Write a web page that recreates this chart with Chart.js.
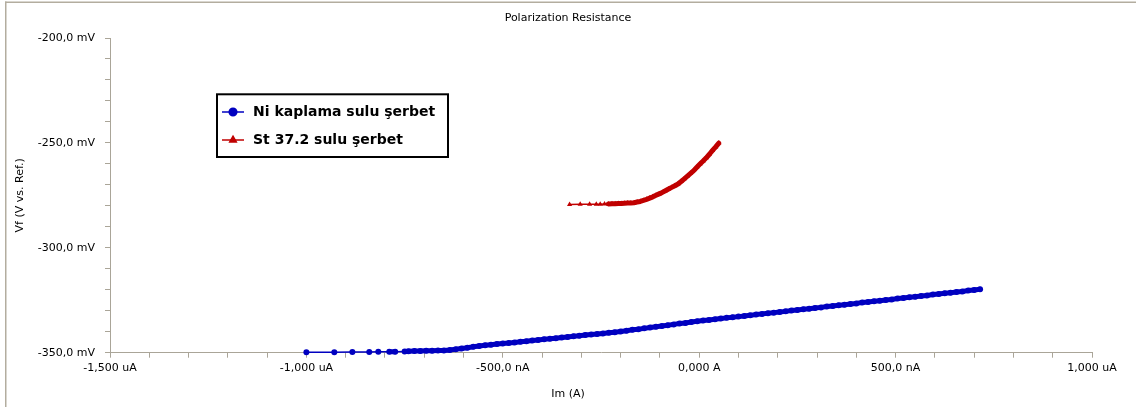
<!DOCTYPE html>
<html>
<head>
<meta charset="utf-8">
<script src="https://cdn.jsdelivr.net/npm/chart.js@4.4.1/dist/chart.umd.min.js"></script>
<style>
  html, body { margin: 0; padding: 0; background: #ffffff; overflow: hidden; }
  canvas { display: block; }
</style>
</head>
<body>
<canvas id="chart" width="1136" height="407"></canvas>
<script>
// Titles and series names
const chartTitle = 'Polarization Resistance';
const xAxisTitle = 'Im (A)';
const yAxisTitle = 'Vf (V vs. Ref.)';
const seriesNames = ['Ni kaplama sulu şerbet', 'St 37.2 sulu şerbet'];

// Ni coating in syrup: current (nA) and potential (mV)
const niCurrent = [
  -1000, -929, -883, -840, -817, -789, -774, -750,
  -740, -725, -710, -695, -680, -665, -650, -635, -620, -605,
  -590, -575, -560, -545, -530, -515, -500, -485, -470, -455,
  -440, -425, -410, -395, -380, -365, -350, -335, -320, -305,
  -290, -275, -260, -245, -230, -215, -200, -185, -170, -155,
  -140, -125, -110, -95, -80, -65, -50, -35, -20, -5,
  10, 25, 40, 55, 70, 85, 100, 115, 130, 145,
  160, 175, 190, 205, 220, 235, 250, 265, 280, 295,
  310, 325, 340, 355, 370, 385, 400, 415, 430, 445,
  460, 475, 490, 505, 520, 535, 550, 565, 580, 595,
  610, 625, 640, 655, 670, 685, 700, 715
];
const niPotential = [
  -349.8, -349.8, -349.7, -349.7, -349.6, -349.6, -349.5, -349.4,
  -349.3, -349.2, -349.2, -349.1, -349.1, -349.0, -348.9, -348.7, -348.4, -348.0,
  -347.6, -347.2, -346.8, -346.5, -346.2, -345.9, -345.6, -345.4, -345.1, -344.8,
  -344.5, -344.2, -343.9, -343.6, -343.4, -343.1, -342.8, -342.5, -342.2, -341.9,
  -341.6, -341.3, -341.1, -340.8, -340.5, -340.2, -339.9, -339.5, -339.1, -338.8,
  -338.4, -338.0, -337.6, -337.3, -336.9, -336.5, -336.1, -335.8, -335.4, -335.0,
  -334.7, -334.4, -334.1, -333.7, -333.4, -333.1, -332.8, -332.5, -332.2, -331.8,
  -331.5, -331.2, -330.9, -330.6, -330.3, -329.9, -329.6, -329.3, -329.0, -328.7,
  -328.4, -328.0, -327.7, -327.4, -327.1, -326.8, -326.5, -326.1, -325.8, -325.5,
  -325.2, -324.9, -324.6, -324.2, -323.9, -323.6, -323.3, -323.0, -322.7, -322.3,
  -322.0, -321.7, -321.4, -321.1, -320.8, -320.4, -320.1, -319.8
];

// St 37.2 steel in syrup: current (nA) and potential (mV)
const stCurrent = [
  -330, -303, -279, -262, -252, -241, -231, -222, -214, -206,
  -198, -190, -182, -174, -166, -158, -150, -142, -134, -126,
  -118, -110, -102, -94, -86, -78, -70, -62, -54, -46,
  -38, -30, -22, -14, -6, 2, 10, 18, 26, 34,
  42, 50
];
const stPotential = [
  -279.4, -279.3, -279.3, -279.2, -279.2, -279.1, -279.1, -279.0, -279.0, -278.9,
  -278.9, -278.8, -278.7, -278.6, -278.5, -278.2, -277.9, -277.4, -276.9, -276.3,
  -275.7, -275.0, -274.3, -273.6, -272.8, -272.0, -271.2, -270.4, -269.6, -268.4,
  -267.1, -265.8, -264.5, -263.2, -261.6, -260.1, -258.6, -257.1, -255.4, -253.6,
  -251.9, -250.1
];

// Axis tick labels (values in nA and mV)
const xTickValues = [-1500, -1000, -500, 0, 500, 1000];
const xTickLabels = ['-1,500 uA', '-1,000 uA', '-500,0 nA', '0,000 A', '500,0 nA', '1,000 uA'];
const yTickValues = [-350, -300, -250, -200];
const yTickLabels = ['-350,0 mV', '-300,0 mV', '-250,0 mV', '-200,0 mV'];

const toPoints = (xs, ys) => xs.map((x, i) => ({ x: x, y: ys[i] }));
const labelFor = (values, labels) => (v) => {
  const i = values.findIndex(t => Math.abs(t - v) < 1e-6);
  return i >= 0 ? labels[i] : '';
};
// Where samples crowd together the markers merge into a solid band
const bandWidth = (limit) => (ctx) =>
  Math.abs(ctx.p1.parsed.x - ctx.p0.parsed.x) <= limit ? 5 : 1.5;

const axisGray = '#aaa598';
const baseFont = { family: "'DejaVu Sans', sans-serif", size: 11 };

// White background plus the thin frame along the top and left edges
const framePlugin = {
  id: 'frame',
  beforeDraw(chart) {
    const ctx = chart.ctx;
    ctx.save();
    ctx.fillStyle = '#ffffff';
    ctx.fillRect(0, 0, chart.width, chart.height);
    ctx.fillStyle = '#b3ad9f';
    ctx.fillRect(5, 1.5, chart.width - 5, 1.5);
    ctx.fillRect(5, 1.5, 1.5, chart.height);
    ctx.restore();
  }
};

// Boxed legend floating inside the plot area
const boxLegendPlugin = {
  id: 'boxLegend',
  afterDraw(chart, args, opts) {
    const ctx = chart.ctx;
    ctx.save();
    ctx.lineWidth = 2;
    ctx.strokeStyle = '#000000';
    ctx.strokeRect(opts.x, opts.y, opts.w, opts.h);
    chart.data.datasets.forEach((ds, i) => {
      const cy = opts.y + opts.firstRow + i * opts.rowGap;
      const mx = opts.x + opts.markerX;
      ctx.strokeStyle = ds.borderColor;
      ctx.fillStyle = ds.backgroundColor;
      ctx.lineWidth = 1.5;
      ctx.beginPath();
      ctx.moveTo(mx - 11, cy);
      ctx.lineTo(mx + 11, cy);
      ctx.stroke();
      Chart.helpers.drawPoint(ctx, {
        pointStyle: ds.pointStyle, radius: opts.markerRadius, borderWidth: 1, rotation: 0
      }, mx, cy);
      ctx.fillStyle = '#000000';
      ctx.font = "bold 14px 'DejaVu Sans', sans-serif";
      ctx.textBaseline = 'middle';
      ctx.textAlign = 'left';
      ctx.fillText(ds.label, opts.x + opts.textX, cy);
    });
    ctx.restore();
  }
};

new Chart(document.getElementById('chart'), {
  type: 'scatter',
  data: {
    datasets: [
      {
        label: seriesNames[0],
        data: toPoints(niCurrent, niPotential),
        showLine: true,
        borderColor: '#0000c0',
        backgroundColor: '#0000c0',
        borderWidth: 1.5,
        borderJoinStyle: 'round',
        borderCapStyle: 'round',
        segment: { borderWidth: bandWidth(15) },
        pointStyle: 'circle',
        pointRadius: 3,
        pointBorderWidth: 0,
        clip: false
      },
      {
        label: seriesNames[1],
        data: toPoints(stCurrent, stPotential),
        showLine: true,
        borderColor: '#c00000',
        backgroundColor: '#c00000',
        borderWidth: 1.5,
        borderJoinStyle: 'round',
        borderCapStyle: 'round',
        segment: { borderWidth: bandWidth(9) },
        pointStyle: 'triangle',
        pointRadius: 3,
        pointBorderWidth: 0,
        clip: false
      }
    ]
  },
  options: {
    responsive: false,
    animation: false,
    devicePixelRatio: 1,
    layout: { padding: { left: 0, right: 0, top: 0, bottom: 0 } },
    plugins: {
      legend: { display: false },
      tooltip: { enabled: false },
      title: {
        display: true,
        text: chartTitle,
        color: '#000000',
        font: { family: baseFont.family, size: 11, weight: 'normal' },
        padding: { top: 12, bottom: 12.8 }
      },
      subtitle: {
        display: true,
        position: 'bottom',
        text: xAxisTitle,
        color: '#000000',
        font: { family: baseFont.family, size: 11, weight: 'normal' },
        padding: { top: 4.7, bottom: 6.4 }
      },
      boxLegend: {
        x: 217, y: 94.3, w: 231, h: 62.7,
        firstRow: 17.7, rowGap: 28,
        markerX: 16, textX: 36, markerRadius: 3.8
      }
    },
    scales: {
      x: {
        type: 'linear',
        min: -1500,
        max: 1000,
        afterFit: (s) => { s.height = 30; },
        border: { display: true, color: axisGray, width: 1 },
        grid: { display: true, drawOnChartArea: false, drawTicks: true, tickLength: 5, color: axisGray },
        ticks: {
          stepSize: 100,
          autoSkip: false,
          maxRotation: 0,
          padding: 4,
          color: '#000000',
          font: baseFont,
          callback: labelFor(xTickValues, xTickLabels)
        }
      },
      y: {
        type: 'linear',
        min: -350,
        max: -200,
        afterFit: (s) => { s.width = 110; },
        border: { display: true, color: axisGray, width: 1 },
        grid: { display: true, drawOnChartArea: false, drawTicks: true, tickLength: 5, color: axisGray },
        title: {
          display: true,
          text: yAxisTitle,
          color: '#000000',
          font: baseFont,
          padding: { top: 14, bottom: 0 }
        },
        ticks: {
          stepSize: 10,
          autoSkip: false,
          padding: 10,
          color: '#000000',
          font: baseFont,
          callback: labelFor(yTickValues, yTickLabels)
        }
      },
      // empty margin on the right so the plot ends short of the edge
      yMargin: {
        type: 'linear',
        position: 'right',
        display: true,
        afterFit: (s) => { s.width = 44; },
        border: { display: false },
        grid: { display: false, drawTicks: false },
        ticks: { display: false }
      }
    }
  },
  plugins: [framePlugin, boxLegendPlugin]
});
</script>
</body>
</html>
